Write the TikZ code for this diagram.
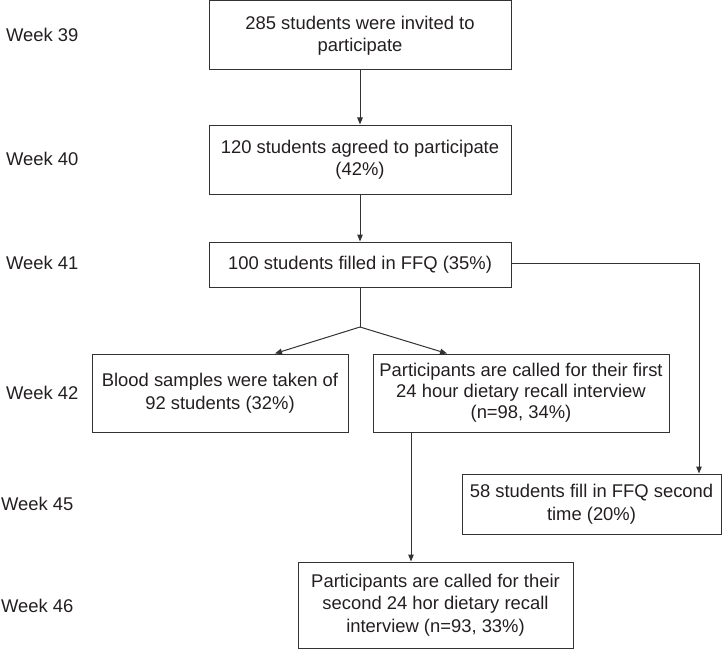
\documentclass[tikz,border=0pt]{standalone}
\usepackage{fontspec}
\setmainfont{Liberation Sans}
\usetikzlibrary{arrows.meta}
\definecolor{ink}{RGB}{35,31,32}
\definecolor{edge}{RGB}{50,50,50}
\begin{document}
\begin{tikzpicture}[x=1pt,y=-1pt,
  box/.style={draw=edge,line width=1pt,inner sep=0pt,align=center,text=ink,
    font=\fontsize{18.4}{22.5}\selectfont},
  week/.style={anchor=west,inner sep=0pt,text=ink,font=\fontsize{18.4}{22.5}\selectfont},
  arr/.style={draw=edge,line width=1pt,-{Triangle[length=7pt,width=5.5pt]}},
  ln/.style={draw=edge,line width=1pt}]
\useasboundingbox (0,0) rectangle (722,650);
% week labels
\node[week] (w39) at (6,35) {Week 39};
\node[week] (w40) at (6,159) {Week 40};
\node[week] (w41) at (6,263) {Week 41};
\node[week] (w42) at (6,393) {Week 42};
\node[week] (w45) at (1,504) {Week 45};
\node[week] (w46) at (1,606) {Week 46};
% boxes
\node[box,minimum width=302pt,minimum height=69pt] (b1) at (360,35.5)
  {285 students were invited to\\participate};
\node[box,minimum width=302pt,minimum height=69pt] (b2) at (360,159.5)
  {120 students agreed to participate\\(42\%)};
\node[box,minimum width=302pt,minimum height=45pt] (b3) at (360,264.5)
  {100 students filled in FFQ (35\%)};
\node[box,minimum width=256pt,minimum height=78pt] (b4) at (220,393)
  {Blood samples were taken of\\92 students (32\%)};
\node[box,minimum width=296pt,minimum height=78pt,font=\fontsize{18.4}{21}\selectfont] (b5) at (521,393)
  {Participants are called for their first\\24 hour dietary recall interview\\(n=98, 34\%)};
\node[box,minimum width=259pt,minimum height=60pt] (b6) at (591.5,504)
  {58 students fill in FFQ second\\time (20\%)};
\node[box,minimum width=275pt,minimum height=86pt] (b7) at (435.5,605)
  {Participants are called for their\\second 24 hor dietary recall\\interview (n=93, 33\%)};
% connectors
\coordinate (br) at (360,327);
\coordinate (t4) at (275,353.5);
\coordinate (t5) at (447,353.5);
\coordinate (rc) at (699,263);
\draw[arr] (b1.south) -- (b2.north);
\draw[arr] (b2.south) -- (b3.north);
\draw[ln] (b3.south) -- (br);
\draw[arr] (br) -- (t4);
\draw[arr] (br) -- (t5);
\draw[arr] (b3.east |- rc) -- (rc) -- (rc |- b6.north);
\draw[arr] (b5.south -| 411,0) -- (b7.north -| 411,0);
\end{tikzpicture}
\end{document}
